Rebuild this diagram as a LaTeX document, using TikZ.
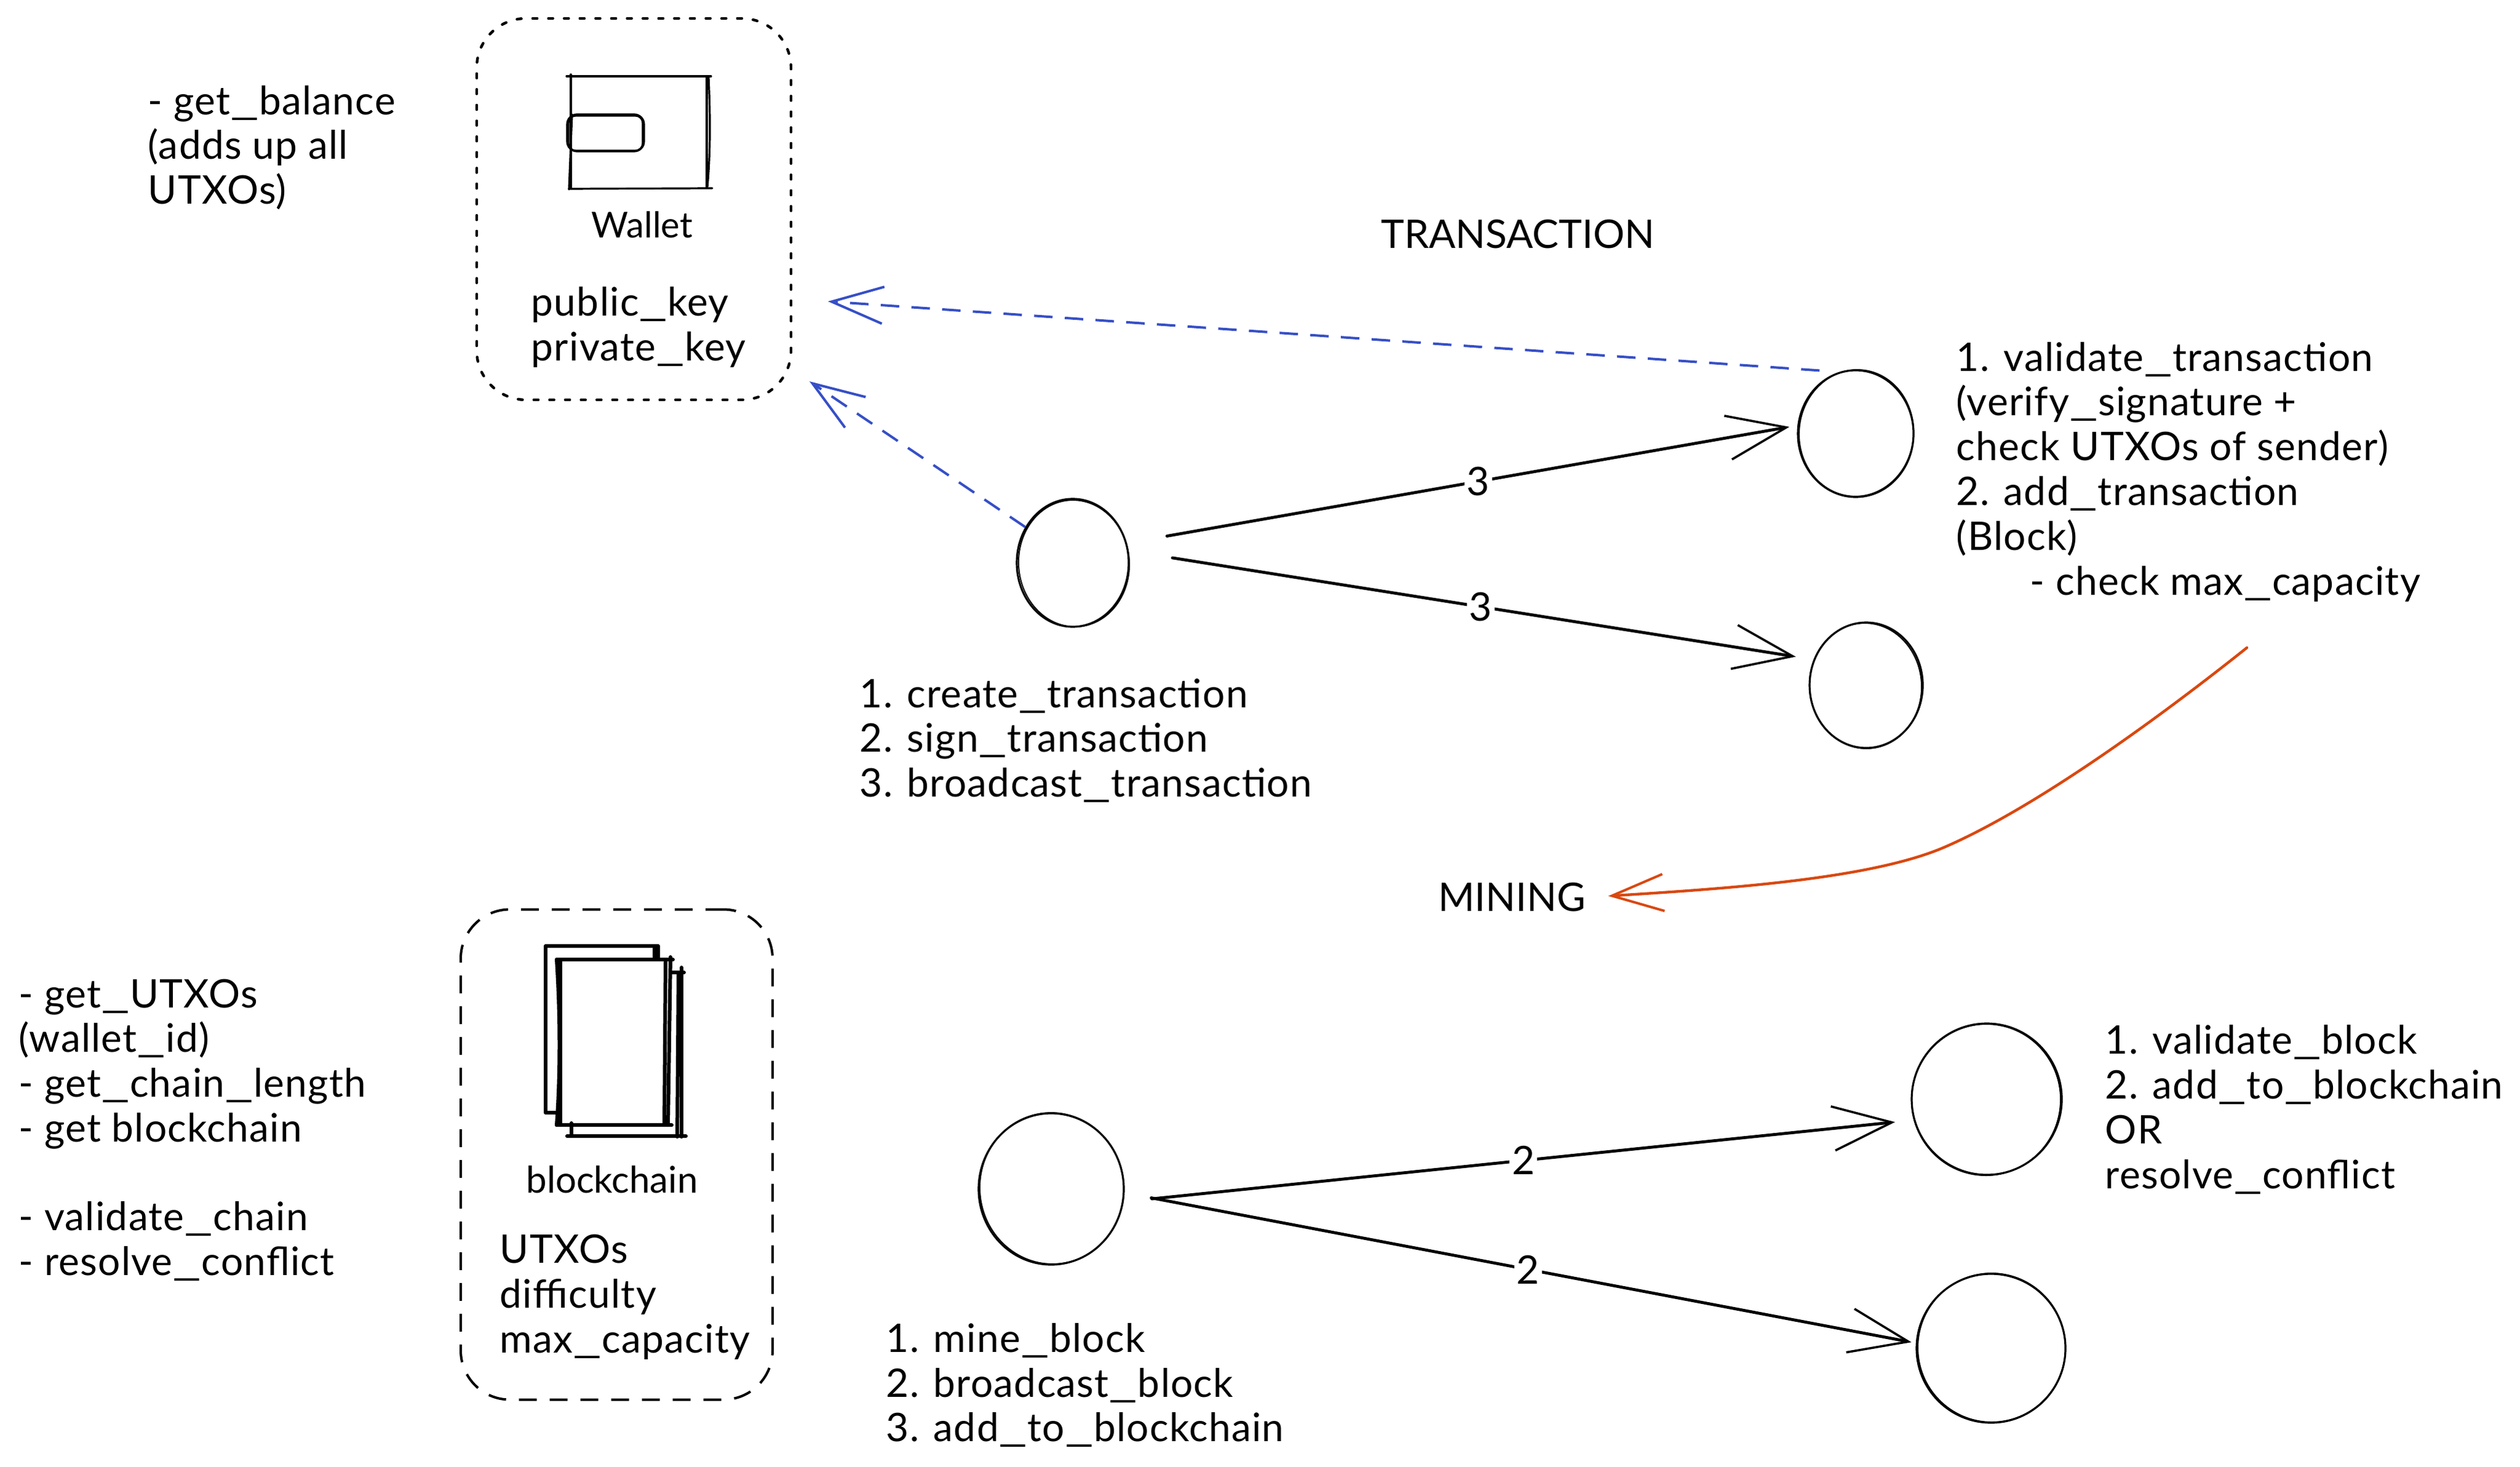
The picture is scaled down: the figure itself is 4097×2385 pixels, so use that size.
\documentclass[tikz,border=0pt]{standalone}
\usepackage{fontspec}
\usepackage{graphicx}
\setmainfont{Lato}
\newfontfamily\widehand{Lato}[LetterSpace=2]
\usetikzlibrary{shapes.geometric,arrows.meta}
\definecolor{bluearrow}{HTML}{364FC7}
\definecolor{orangearrow}{HTML}{D9480F}
\newcommand{\handfont}{\fontsize{16}{18.2}\selectfont}
\newcommand{\widefont}{\widehand\fontsize{16}{18.2}\selectfont}
\newcommand{\us}{\scalebox{1.6}[1]{\_}}
\tikzset{
  x=0.25pt,y=-0.25pt,
  txt/.style={font=\widefont,align=left,inner sep=0pt,anchor=west,text=black},
  ctxt/.style={font=\handfont,inner sep=0pt,anchor=center,text=black},
  ink/.style={draw=black,line width=0.8pt,line cap=round,line join=round},
  heavy/.style={draw=black,line width=1.5pt,line cap=round,line join=round},
  bubble/.style={ellipse,draw=black,line width=0.8pt,inner sep=0pt},
  flow/.style={draw=black,line width=1.2pt,line cap=round,-{Straight Barb[length=24pt,width=18pt,line width=0.9pt]}},
  bluelink/.style={draw=bluearrow,line width=1pt,dash pattern=on 7.5pt off 5pt,
    -{Straight Barb[length=21pt,width=15pt,line width=1pt]}},
  orangelink/.style={draw=orangearrow,line width=1.1pt,line cap=round,
    -{Straight Barb[length=21pt,width=15pt,line width=1pt]}},
  dotbox/.style={draw=black,line width=1.1pt,line cap=round,dash pattern=on 1.8pt off 4.6pt,
    rounded corners=20pt,minimum width=127.75pt,minimum height=155pt,inner sep=0pt},
  dashbox/.style={draw=black,line width=1pt,dash pattern=on 7.25pt off 5.25pt,
    rounded corners=20pt,minimum width=126.75pt,minimum height=199.25pt,inner sep=0pt},
  edgelabel/.style={font=\handfont,fill=white,inner sep=1pt,text=black},
}
\begin{document}
\begin{tikzpicture}
\useasboundingbox (0,0) rectangle (4097,2385);
% containers
\node[dotbox] (wallet) at (1030.5,340) {};
\node[dashbox] (chain) at (1002.5,1877) {};
% wallet icon
\draw[ink] (921,124) -- (1156,124);
\draw[ink] (928,121) -- (928,306);
\draw[ink] (930,186) -- (925,308);
\draw[ink] (925,307) -- (1158,306);
\draw[ink] (1149,124) -- (1149,304);
\draw[ink] (1152,126) .. controls (1155,190) and (1155,250) .. (1150,304);
\draw[ink,rounded corners=4pt] (922,186) rectangle (1047,246);
\draw[ink,rounded corners=3pt] (924,188) rectangle (1045,245);
% blockchain icon
\draw[heavy] (1069,1538) -- (887,1538) -- (887,1809) -- (906,1809);
\draw[heavy] (1064,1540) -- (1064,1558);
\draw[heavy] (1070,1538) -- (1070,1558);
\draw[heavy] (1090,1581) -- (1112,1581);
\draw[heavy] (1108,1573) -- (1108,1848);
\draw[heavy] (1103,1581) -- (1101,1848);
\draw[heavy] (922,1847) -- (1115,1847);
\draw[heavy] (929,1826) -- (929,1847);
\draw[heavy] (911,1561) -- (911,1829);
\draw[heavy] (905,1560) .. controls (911,1650) and (911,1750) .. (905,1829);
\draw[heavy] (905,1560) -- (1094,1560);
\draw[heavy] (905,1829) -- (1092,1829);
\draw[heavy] (1090,1556) -- (1086,1829);
\draw[heavy] (1082,1562) -- (1080,1829);
% texts
\node[ctxt] (walletname) at (1044,365) {\fontsize{14.5}{17}\selectfont Wallet};
\node[txt] (walletfields) at (863,532) {public\us key\\private\us key};
\node[txt] (balance) at (240,240) {- get\us balance\\(adds up all\\UTXOs)};
\node[ctxt] (transaction) at (2468,381) {TRANSACTION};
\node[ctxt] (mining) at (2458,1459) {MINING};
\node[txt] (validatetx) at (3180,767) {1. validate\us transaction\\(verify\us signature +\\check UTXOs of sender)\\2. add\us transaction\\(Block)\\\hspace{30pt}- check max\us capacity};
\node[txt] (createtx) at (1397,1204) {1. create\us transaction\\2. sign\us transaction\\3. broadcast\us transaction};
\node[ctxt] (chainname) at (995,1918) {\fontsize{15}{17}\selectfont blockchain};
\node[txt] (chainfields) at (812,2109) {UTXOs\\difficulty\\max\us capacity};
\node[txt] (chainops) at (30,1837) {\lineskiplimit=0pt - get\us UTXOs\\(wallet\us id)\\- get\us chain\us length\\- get blockchain\\[17.8pt]- validate\us chain\\- resolve\us conflict};
\node[txt] (mineblock) at (1440,2252) {1. mine\us block\\2. broadcast\us block\\3. add\us to\us blockchain};
\node[txt] (validateblock) at (3422,1804) {1. validate\us block\\2. add\us to\us blockchain\\OR\\resolve\us conflict};
% peers
\node[bubble,minimum width=45.5pt,minimum height=52pt] (sender) at (1744,915) {};
\node[bubble,minimum width=47pt,minimum height=51.5pt] (peerA) at (3017,705) {};
\node[bubble,minimum width=46pt,minimum height=51pt] (peerB) at (3034,1114) {};
\node[bubble,minimum width=59pt,minimum height=61.5pt] (miner) at (1709,1933) {};
\node[bubble,minimum width=61pt,minimum height=61.5pt] (peerC) at (3230,1787) {};
\node[bubble,minimum width=60.5pt,minimum height=60.5pt] (peerD) at (3237,2192) {};
\draw[ink,line width=0.5pt] (1746,916) ellipse [x radius=90,y radius=103,rotate=4];
\draw[ink,line width=0.5pt] (3018,704) ellipse [x radius=93,y radius=103,rotate=-5];
\draw[ink,line width=0.5pt] (3033,1115) ellipse [x radius=91,y radius=102,rotate=4];
\draw[ink,line width=0.5pt] (1710,1932) ellipse [x radius=117,y radius=123,rotate=6];
\draw[ink,line width=0.5pt] (3229,1788) ellipse [x radius=121,y radius=123,rotate=-6];
\draw[ink,line width=0.5pt] (3238,2191) ellipse [x radius=120,y radius=121,rotate=5];
% connectors
\draw[flow,shorten <=16.5pt,shorten >=3.3pt] (sender.20) -- node[edgelabel,pos=.524] (l1) {3} (peerA.172);
\draw[flow,shorten <=18pt,shorten >=7.3pt] (sender.12) -- node[edgelabel,pos=.514] (l2) {3} (peerB.154);
\draw[flow,shorten <=11.5pt,shorten >=7.6pt] (miner.-10) -- node[edgelabel,pos=.506] (l3) {2} (peerC.196);
\draw[flow,shorten <=11pt,shorten >=1.8pt] (miner.-3.5) -- node[edgelabel,pos=.51] (l4) {2} (peerD.176);
\coordinate (walletin) at (1346,490);
\coordinate (walletinb) at (1316,620);
\draw[bluelink,shorten <=8pt] (peerA.105) -- (walletin);
\draw[bluelink] (sender.143) -- (walletinb);
\coordinate (minestart) at (3653,1053);
\draw[orangelink,shorten >=9pt] (minestart) .. controls (3500,1175) and (3305,1315) .. (3162,1377)
  .. controls (3040,1430) and (2800,1445) .. (mining.east);
\end{tikzpicture}
\end{document}
